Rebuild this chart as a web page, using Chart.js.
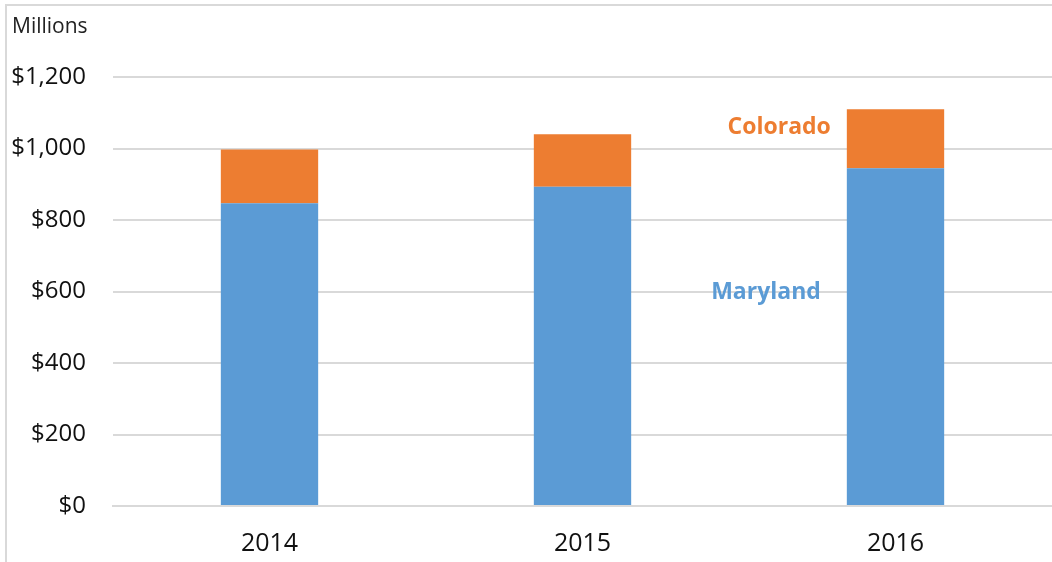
<!DOCTYPE html>
<html>
<head>
<meta charset="utf-8">
<script src="https://cdn.jsdelivr.net/npm/chart.js@4.4.0/dist/chart.umd.min.js"></script>
<style>
  html, body { margin: 0; padding: 0; background: #fff; }
  #wrap { width: 1052px; height: 562px; position: relative; }
</style>
</head>
<body>
<div id="wrap"><canvas id="salesChart"></canvas></div>
<script>
const years = ['2014', '2015', '2016'];
const maryland = [847, 893, 945];
const colorado = [150, 147, 165];
const yTicks = [0, 200, 400, 600, 800, 1000, 1200];

const BLUE = '#5B9BD5';
const ORANGE = '#ED7D31';
const GRID = '#d9d9d9';
const FONT = '"Open Sans", "Liberation Sans", sans-serif';

// frame + "Millions" + series labels next to the last bar
const decorPlugin = {
    id: 'decor',
    beforeDraw(chart) {
        const ctx = chart.ctx;
        ctx.save();
        ctx.fillStyle = '#fff';
        ctx.fillRect(0, 0, chart.width, chart.height);
        ctx.strokeStyle = GRID;
        ctx.lineWidth = 2;
        ctx.beginPath();
        ctx.moveTo(6, chart.height);
        ctx.lineTo(6, 5);
        ctx.lineTo(chart.width, 5);
        ctx.stroke();
        ctx.restore();
    },
    afterDraw(chart) {
        const ctx = chart.ctx;
        const y = chart.scales.y;
        const bar = chart.getDatasetMeta(1).data[2];
        const left = bar.x - bar.width / 2;
        ctx.save();
        ctx.font = '21px ' + FONT;
        ctx.fillStyle = '#222';
        ctx.textAlign = 'left';
        ctx.textBaseline = 'middle';
        ctx.fillText('Millions', 12, 27);

        ctx.font = 'bold 23px ' + FONT;
        ctx.textAlign = 'right';
        ctx.fillStyle = ORANGE;
        ctx.fillText('Colorado', left - 16, y.getPixelForValue(1058));
        ctx.fillStyle = BLUE;
        ctx.fillText('Maryland', left - 26, y.getPixelForValue(598));
        ctx.restore();
    }
};

function initChart() {
    const ctx = document.getElementById('salesChart').getContext('2d');

    new Chart(ctx, {
        type: 'bar',
        data: {
            labels: years,
            datasets: [{
                label: 'Maryland',
                data: maryland,
                backgroundColor: BLUE,
                categoryPercentage: 1,
                barPercentage: 0.311
            }, {
                label: 'Colorado',
                data: colorado,
                backgroundColor: ORANGE,
                categoryPercentage: 1,
                barPercentage: 0.311
            }]
        },
        options: {
            responsive: true,
            maintainAspectRatio: false,
            animation: false,
            layout: {
                padding: { left: 8, top: 77, right: 0, bottom: 0 }
            },
            plugins: {
                legend: { display: false },
                tooltip: { enabled: false }
            },
            scales: {
                x: {
                    stacked: true,
                    grid: { display: false, drawTicks: false },
                    border: { display: true, color: GRID, width: 2 },
                    ticks: {
                        color: '#111',
                        font: { family: FONT, size: 25 },
                        padding: 23
                    },
                    afterFit(scale) { scale.height = 56; }
                },
                y: {
                    stacked: true,
                    min: 0,
                    max: 1200,
                    afterBuildTicks(scale) {
                        scale.ticks = yTicks.map(v => ({ value: v }));
                    },
                    grid: { color: GRID, lineWidth: 2, drawTicks: false },
                    border: { display: false },
                    ticks: {
                        color: '#111',
                        font: { family: FONT, size: 24 },
                        padding: 27,
                        callback: v => '$' + v.toLocaleString('en-US')
                    },
                    afterFit(scale) { scale.width = 105; }
                }
            }
        },
        plugins: [decorPlugin]
    });
}

document.addEventListener('DOMContentLoaded', initChart);
</script>
</body>
</html>
